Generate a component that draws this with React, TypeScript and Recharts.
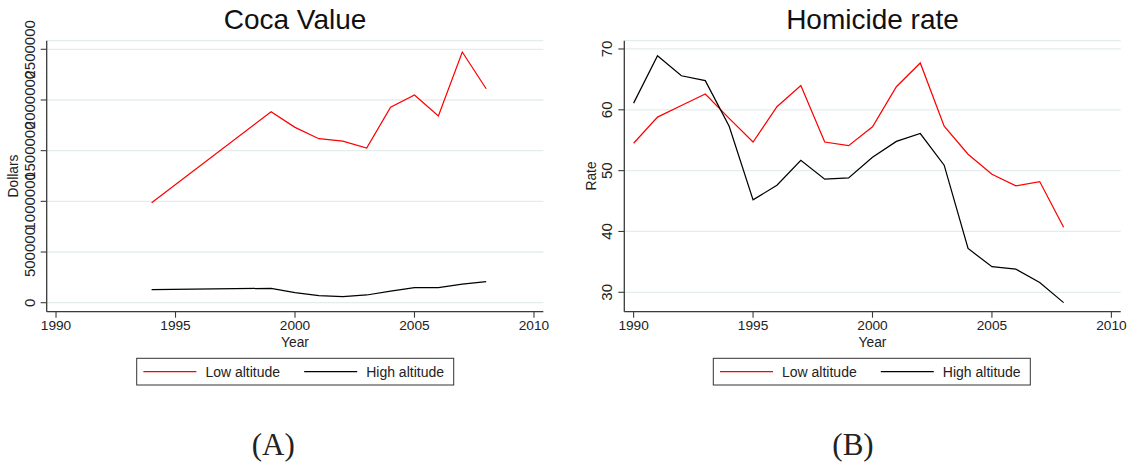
import { LineChart, Line, XAxis, YAxis, CartesianGrid } from "recharts";

// Coca value (dollars), panel A
const COCA_YEARS = [1994, 1999, 2000, 2001, 2002, 2003, 2004, 2005, 2006, 2007, 2008];
const COCA_LOW = [986000, 1884000, 1730000, 1618000, 1595000, 1526000, 1928000, 2049000, 1842000, 2473000, 2111000];
const COCA_HIGH = [128000, 142000, 99000, 69000, 59000, 76000, 115000, 148000, 148000, 184000, 207000];

// Homicide rate, panel B
const HOM_YEARS = [1990, 1991, 1992, 1993, 1994, 1995, 1996, 1997, 1998, 1999, 2000, 2001, 2002, 2003, 2004, 2005, 2006, 2007, 2008];
const HOM_LOW = [54.5, 58.8, 60.7, 62.6, 58.6, 54.7, 60.5, 64.0, 54.7, 54.1, 57.2, 63.8, 67.7, 57.3, 52.7, 49.4, 47.5, 48.2, 40.7];
const HOM_HIGH = [61.1, 68.9, 65.6, 64.8, 57.3, 45.2, 47.6, 51.7, 48.6, 48.8, 52.2, 54.8, 56.1, 50.9, 37.2, 34.2, 33.8, 31.6, 28.3];

const X_TICKS = [1990, 1995, 2000, 2005, 2010];
const COCA_TICKS = [0, 500000, 1000000, 1500000, 2000000, 2500000];
const HOM_TICKS = [30, 40, 50, 60, 70];

const SERIES = [
  { key: "low", name: "Low altitude", color: "#ff0000" },
  { key: "high", name: "High altitude", color: "#000000" },
];

const FONT = "'Liberation Sans', Arial, Helvetica, sans-serif";
const AXIS = "#3a3a3a";
const GRID = "#e4eded";
const X_DOMAIN = [1989.61, 2010.39];

const cocaData = COCA_YEARS.map((year, i) => ({ year, low: COCA_LOW[i], high: COCA_HIGH[i] }));
const homData = HOM_YEARS.map((year, i) => ({ year, low: HOM_LOW[i], high: HOM_HIGH[i] }));

// rotated y tick labels, like Stata draws them
const YTick = (props: any) => {
  const { y, payload, bx } = props;
  return (
    <text
      x={bx}
      y={y}
      transform={`rotate(-90, ${bx}, ${y})`}
      textAnchor="middle"
      fontSize={15}
      fill="#222"
      fontFamily={FONT}
    >
      {payload.value}
    </text>
  );
};

const AxisTitle = (props: any) => {
  const { px, py, text, vertical } = props;
  return (
    <text
      x={px}
      y={py}
      transform={vertical ? `rotate(-90, ${px}, ${py})` : undefined}
      textAnchor="middle"
      fontSize={13.8}
      fill="#222"
      fontFamily={FONT}
    >
      {text}
    </text>
  );
};

interface PanelProps {
  left: number;
  plotLeft: number;
  plotRight: number;
  data: any[];
  yDomain: number[];
  yTicks: number[];
  yLabel: string;
}

const W = 560;
const H = 350;

const Panel = ({ left, plotLeft, plotRight, data, yDomain, yTicks, yLabel }: PanelProps) => {
  const yAxisWidth = plotLeft - left;
  const marginRight = left + W - plotRight;
  const centerX = (plotLeft + plotRight) / 2 - left;
  return (
    <div style={{ position: "absolute", left, top: 0 }}>
      <LineChart width={W} height={H} data={data} margin={{ top: 40.7, right: marginRight, left: 0, bottom: 0 }}>
        <CartesianGrid horizontal vertical={false} stroke={GRID} strokeWidth={1.3} />
        <XAxis
          dataKey="year"
          type="number"
          domain={X_DOMAIN}
          ticks={X_TICKS}
          allowDataOverflow
          interval={0}
          height={38.3}
          tickSize={6}
          tickMargin={3}
          tick={{ fontSize: 13.7, fill: "#222", fontFamily: FONT }}
          axisLine={{ stroke: AXIS, strokeWidth: 1.3 }}
          tickLine={{ stroke: AXIS, strokeWidth: 1.1 }}
          label={<AxisTitle px={centerX} py={346.5} text="Year" />}
        />
        <YAxis
          type="number"
          domain={yDomain}
          ticks={yTicks}
          allowDataOverflow
          interval={0}
          width={yAxisWidth}
          tickSize={6}
          tick={<YTick bx={yAxisWidth - 12} />}
          axisLine={{ stroke: AXIS, strokeWidth: 1.3 }}
          tickLine={{ stroke: AXIS, strokeWidth: 1.1 }}
          label={<AxisTitle px={18.3} py={176} text={yLabel} vertical />}
        />
        {SERIES.map((s) => (
          <Line
            key={s.key}
            dataKey={s.key}
            stroke={s.color}
            strokeWidth={1.25}
            dot={false}
            isAnimationActive={false}
          />
        ))}
      </LineChart>
    </div>
  );
};

const LegendBox = ({ x, y }: { x: number; y: number }) => (
  <g fontFamily={FONT} fontSize={14} fill="#222">
    <rect x={x} y={y} width={317} height={26.7} fill="#fff" stroke="#333" strokeWidth={1} />
    {SERIES.map((s, i) => {
      const lx = x + 6.7 + i * 160.8;
      return (
        <g key={s.key}>
          <line x1={lx} x2={lx + 53} y1={y + 13.4} y2={y + 13.4} stroke={s.color} strokeWidth={1.25} />
          <text x={lx + 62} y={y + 19}>
            {s.name}
          </text>
        </g>
      );
    })}
  </g>
);

export default function App() {
  return (
    <div style={{ position: "absolute", left: 0, top: 0, width: 1138, height: 466, background: "#fff" }}>
      <Panel
        left={0}
        plotLeft={46.7}
        plotRight={543.3}
        data={cocaData}
        yDomain={[-88800, 2584800]}
        yTicks={COCA_TICKS}
        yLabel="Dollars"
      />
      <Panel
        left={578}
        plotLeft={624.3}
        plotRight={1120.7}
        data={homData}
        yDomain={[26.81, 71.36]}
        yTicks={HOM_TICKS}
        yLabel="Rate"
      />
      <svg
        width={1138}
        height={466}
        style={{ position: "absolute", left: 0, top: 0, pointerEvents: "none" }}
      >
        <text x={295} y={29.3} textAnchor="middle" fontSize={28} fontFamily={FONT} fill="#111">
          Coca Value
        </text>
        <text x={872.5} y={29.3} textAnchor="middle" fontSize={28} fontFamily={FONT} fill="#111">
          Homicide rate
        </text>
        <LegendBox x={136.7} y={358.3} />
        <LegendBox x={713.3} y={358.3} />
        <text x={273.3} y={455} textAnchor="middle" fontSize={31} fontFamily="'Liberation Serif', 'DejaVu Serif', serif" fill="#222">
          (A)
        </text>
        <text x={853} y={455} textAnchor="middle" fontSize={31} fontFamily="'Liberation Serif', 'DejaVu Serif', serif" fill="#222">
          (B)
        </text>
      </svg>
    </div>
  );
}
